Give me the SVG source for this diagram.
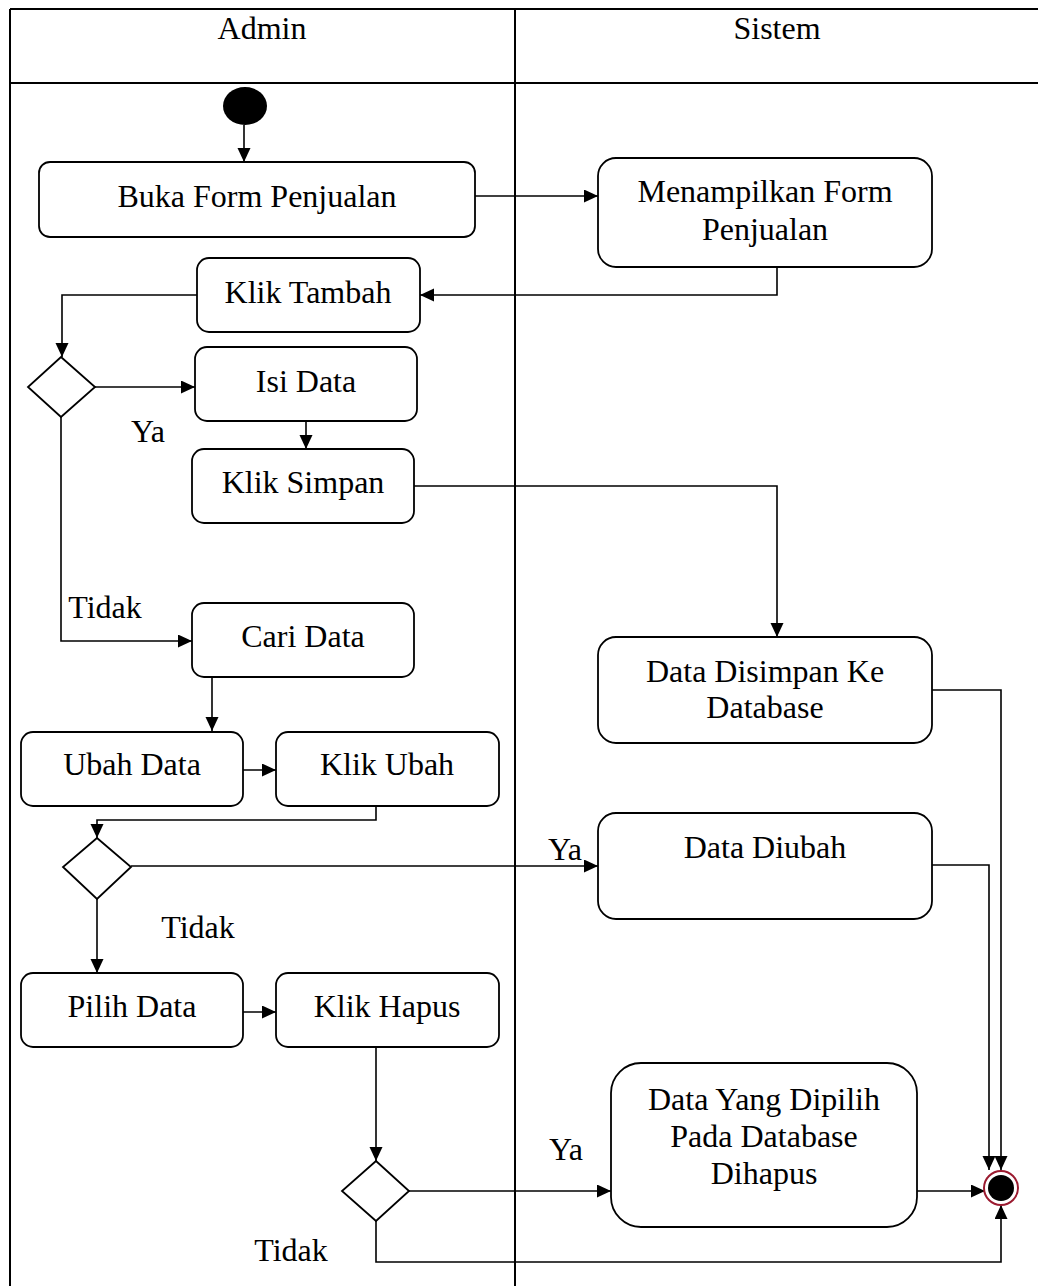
<svg xmlns="http://www.w3.org/2000/svg" width="1038" height="1286" viewBox="0 0 1038 1286">
<style>
  .frame { fill: none; stroke: #000; stroke-width: 2; }
  .box { fill: #fff; stroke: #000; stroke-width: 1.8; }
  .dia { fill: #fff; stroke: #000; stroke-width: 1.8; }
  .conn { fill: none; stroke: #000; stroke-width: 1.6; marker-end: url(#arrow); }
  text { font-family: "Liberation Serif", "Times New Roman", serif; font-size: 32px; fill: #000; }
  .c { text-anchor: middle; }
</style>
<defs>
  <marker id="arrow" markerUnits="userSpaceOnUse" markerWidth="14" markerHeight="14" refX="14" refY="6.5" orient="auto">
    <path d="M0,0 L14,6.5 L0,13 z" fill="#000"/>
  </marker>
</defs>
<rect width="1038" height="1286" fill="#fff"/>
<g id="swimlanes">
  <line class="frame" x1="10" y1="9" x2="1038" y2="9"/>
  <line class="frame" x1="10" y1="83" x2="1038" y2="83"/>
  <line class="frame" x1="10" y1="9" x2="10" y2="1286"/>
  <line class="frame" x1="515" y1="9" x2="515" y2="1286"/>
  <text class="c" x="262" y="39">Admin</text>
  <text class="c" x="777" y="39">Sistem</text>
</g>
<g id="connectors">
  <path class="conn" d="M244,125 L244,162"/>
  <path class="conn" d="M475,196 L598,196"/>
  <path class="conn" d="M777,267 L777,295 L420,295"/>
  <path class="conn" d="M197,295 L62,295 L62,357"/>
  <path class="conn" d="M95,387 L195,387"/>
  <path class="conn" d="M306,421 L306,449"/>
  <path class="conn" d="M414,486 L777,486 L777,637"/>
  <path class="conn" d="M61,417 L61,641 L192,641"/>
  <path class="conn" d="M212,677 L212,731"/>
  <path class="conn" d="M243,770 L276,770"/>
  <path class="conn" d="M376,806 L376,820 L97,820 L97,838"/>
  <path class="conn" d="M131,866 L598,866"/>
  <path class="conn" d="M97,899 L97,973"/>
  <path class="conn" d="M243,1012 L276,1012"/>
  <path class="conn" d="M376,1047 L376,1161"/>
  <path class="conn" d="M409,1191 L611,1191"/>
  <path class="conn" d="M376,1221 L376,1262 L1001,1262 L1001,1205"/>
  <path class="conn" d="M932,690 L1001,690 L1001,1170"/>
  <path class="conn" d="M932,865 L989,865 L989,1170"/>
  <path class="conn" d="M917,1191 L985,1191"/>
</g>
<g id="start">
  <ellipse cx="245" cy="106" rx="22" ry="19" fill="#000"/>
</g>
<g id="buka-form">
  <rect class="box" x="39" y="162" width="436" height="75" rx="11"/>
  <text class="c" x="257" y="207">Buka Form Penjualan</text>
</g>
<g id="menampilkan-form">
  <rect class="box" x="598" y="158" width="334" height="109" rx="18"/>
  <text class="c" x="765" y="202">Menampilkan Form</text>
  <text class="c" x="765" y="240">Penjualan</text>
</g>
<g id="klik-tambah">
  <rect class="box" x="197" y="258" width="223" height="74" rx="12"/>
  <text class="c" x="308" y="303">Klik Tambah</text>
</g>
<g id="decision-1">
  <polygon class="dia" points="61,357 95,387 61,417 28,387"/>
  <text class="c" x="148" y="442">Ya</text>
  <text class="c" x="105" y="618">Tidak</text>
</g>
<g id="isi-data">
  <rect class="box" x="195" y="347" width="222" height="74" rx="12"/>
  <text class="c" x="306" y="392">Isi Data</text>
</g>
<g id="klik-simpan">
  <rect class="box" x="192" y="449" width="222" height="74" rx="12"/>
  <text class="c" x="303" y="493">Klik Simpan</text>
</g>
<g id="data-disimpan">
  <rect class="box" x="598" y="637" width="334" height="106" rx="18"/>
  <text class="c" x="765" y="682">Data Disimpan Ke</text>
  <text class="c" x="765" y="718">Database</text>
</g>
<g id="cari-data">
  <rect class="box" x="192" y="603" width="222" height="74" rx="12"/>
  <text class="c" x="303" y="647">Cari Data</text>
</g>
<g id="ubah-data">
  <rect class="box" x="21" y="732" width="222" height="74" rx="12"/>
  <text class="c" x="132" y="775">Ubah Data</text>
</g>
<g id="klik-ubah">
  <rect class="box" x="276" y="732" width="223" height="74" rx="12"/>
  <text class="c" x="387" y="775">Klik Ubah</text>
</g>
<g id="decision-2">
  <polygon class="dia" points="97,838 131,867 97,899 63,867"/>
  <text class="c" x="565" y="860">Ya</text>
  <text class="c" x="198" y="938">Tidak</text>
</g>
<g id="data-diubah">
  <rect class="box" x="598" y="813" width="334" height="106" rx="18"/>
  <text class="c" x="765" y="858">Data Diubah</text>
</g>
<g id="pilih-data">
  <rect class="box" x="21" y="973" width="222" height="74" rx="12"/>
  <text class="c" x="132" y="1017">Pilih Data</text>
</g>
<g id="klik-hapus">
  <rect class="box" x="276" y="973" width="223" height="74" rx="12"/>
  <text class="c" x="387" y="1017">Klik Hapus</text>
</g>
<g id="decision-3">
  <polygon class="dia" points="376,1161 409,1191 376,1221 342,1191"/>
  <text class="c" x="566" y="1160">Ya</text>
  <text class="c" x="291" y="1261">Tidak</text>
</g>
<g id="data-dihapus">
  <rect class="box" x="611" y="1063" width="306" height="164" rx="30"/>
  <text class="c" x="764" y="1110">Data Yang Dipilih</text>
  <text class="c" x="764" y="1147">Pada Database</text>
  <text class="c" x="764" y="1184">Dihapus</text>
</g>
<g id="end">
  <circle cx="1001" cy="1188" r="17" fill="#fff" stroke="#9b1b30" stroke-width="2"/>
  <circle cx="1001" cy="1188" r="13" fill="#000"/>
</g>
</svg>
